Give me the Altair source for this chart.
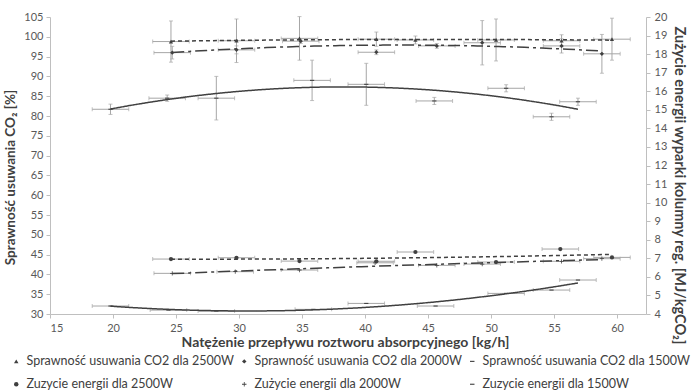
import altair as alt
import pandas as pd

# ---- data ----
labels = [
    "Sprawność usuwania CO2 dla 2500W",
    "Sprawność usuwania CO2 dla 2000W",
    "Sprawność usuwania CO2 dla 1500W",
    "Zuzycie energii dla 2500W",
    "Zużycie energii dla 2000W",
    "Zuzycie energii dla 1500W",
]

# Sprawność (left axis, %)
x_eff_2500 = [24.6, 29.8, 34.8, 40.9, 44.0, 50.4, 55.6, 59.6]
y_eff_2500 = [98.8, 99.0, 99.6, 99.4, 99.2, 99.2, 99.0, 99.4]
ey_eff_2500 = [5.2, 5.5, 5.5, 1.8, 1.0, 5.3, 1.5, 5.3]

x_eff_2000 = [24.7, 29.8, 34.9, 40.9, 45.7, 49.3, 55.6, 58.8]
y_eff_2000 = [96.0, 96.7, 98.9, 96.1, 97.7, 98.5, 97.7, 95.7]
ey_eff_2000 = [1.6, 1.0, 0.6, 0.6, 0.6, 5.6, 1.8, 4.9]

x_eff_1500 = [19.8, 24.3, 28.2, 35.8, 40.1, 45.5, 51.2, 54.8, 56.9]
y_eff_1500 = [81.7, 84.5, 84.5, 89.0, 88.0, 83.8, 87.0, 79.8, 83.6]
ey_eff_1500 = [1.3, 0.8, 5.5, 5.1, 5.3, 0.9, 0.9, 0.9, 0.9]

# Zużycie energii (right axis, MJ/kgCO2)
x_en_2500 = [24.6, 29.8, 34.8, 40.9, 44.0, 50.4, 55.5, 59.6]
y_en_2500 = [6.96, 7.03, 6.85, 6.84, 7.34, 6.80, 7.50, 7.05]

x_en_2000 = [24.7, 29.7, 34.8, 40.8, 45.7, 49.3, 55.6, 58.8]
y_en_2000 = [6.19, 6.28, 6.37, 6.76, 6.62, 6.69, 6.84, 6.98]

x_en_1500 = [19.8, 24.4, 28.2, 35.9, 40.1, 45.6, 51.2, 54.8, 56.9]
y_en_1500 = [4.43, 4.21, 4.16, 4.25, 4.57, 4.43, 5.11, 5.29, 5.83]

x_err = 1.45  # horizontal error half-width (kg/h)

x_ticks = [15, 20, 25, 30, 35, 40, 45, 50, 55, 60]
left_ticks = [30, 35, 40, 45, 50, 55, 60, 65, 70, 75, 80, 85, 90, 95, 100, 105]
right_ticks = [4, 5, 6, 7, 8, 9, 10, 11, 12, 13, 14, 15, 16, 17, 18, 19, 20]

shapes = [
    "triangle-up",
    "diamond",
    "M-1,-0.25H1V0.25H-1Z",
    "circle",
    "M-1,-0.18H-0.18V-1H0.18V-0.18H1V0.18H0.18V1H-0.18V0.18H-1Z",
    "M-1,-0.25H1V0.25H-1Z",
]
dashes = {"2500": [4, 3], "2000": [12, 4, 3, 4], "1500": [1, 0]}


def frame(xs, ys, eys, label, power):
    if eys is None:
        eys = [0.0] * len(xs)
    return pd.DataFrame({
        "x": xs, "y": ys,
        "ylo": [a - b for a, b in zip(ys, eys)],
        "yhi": [a + b for a, b in zip(ys, eys)],
        "xlo": [a - x_err for a in xs],
        "xhi": [a + x_err for a in xs],
        "hasy": [b > 0 for b in eys],
        "label": label, "power": power,
    })


eff = pd.concat([
    frame(x_eff_2500, y_eff_2500, ey_eff_2500, labels[0], "2500"),
    frame(x_eff_2000, y_eff_2000, ey_eff_2000, labels[1], "2000"),
    frame(x_eff_1500, y_eff_1500, ey_eff_1500, labels[2], "1500"),
])
en = pd.concat([
    frame(x_en_2500, y_en_2500, None, labels[3], "2500"),
    frame(x_en_2000, y_en_2000, None, labels[4], "2000"),
    frame(x_en_1500, y_en_1500, None, labels[5], "1500"),
])

FONT = "Lato"
DARK = "#404040"
GREY = "#a6a6a6"
AX = "#bfbfbf"

xscale = alt.Scale(domain=[15, 62.3], nice=False, zero=False)
xaxis = alt.Axis(values=x_ticks, title="Natężenie przepływu roztworu absorpcyjnego [kg/h]",
                 grid=False, domainColor=AX, tickColor=AX, tickSize=4, labelOverlap=False,
                 labelColor="#595959", labelFontSize=11, labelFont=FONT, labelPadding=4,
                 titleFont=FONT, titleFontSize=14, titleColor=DARK, titleFontWeight="bold",
                 titlePadding=2, titleX=295)

shape_enc = alt.Shape("label:N", scale=alt.Scale(domain=labels, range=shapes),
                      legend=alt.Legend(orient="none", legendX=-40, legendY=338, columns=3,
                                        direction="horizontal", title=None,
                                        labelFont=FONT, labelFontSize=12.5, labelColor=DARK,
                                        symbolSize=20, symbolFillColor=DARK, symbolStrokeColor=DARK,
                                        symbolStrokeWidth=0, columnPadding=4, rowPadding=10,
                                        labelLimit=400))


def group(df, yscale, yaxis):
    base = alt.Chart(df)

    def Y(field):
        return alt.Y(field, scale=yscale, axis=yaxis)

    X = lambda f: alt.X(f, scale=xscale, axis=xaxis)
    hbar = base.mark_rule(color=GREY, strokeWidth=1).encode(x=X("xlo:Q"), x2="xhi:Q", y=Y("y:Q"))
    hcap_lo = base.mark_tick(color=GREY, size=4, thickness=1, orient="vertical").encode(
        x=X("xlo:Q"), y=Y("y:Q"))
    hcap_hi = base.mark_tick(color=GREY, size=4, thickness=1, orient="vertical").encode(
        x=X("xhi:Q"), y=Y("y:Q"))
    layers = [hbar, hcap_lo, hcap_hi]
    vb = base.transform_filter(alt.datum.hasy)
    layers.append(vb.mark_rule(color=GREY, strokeWidth=1).encode(x=X("x:Q"), y=Y("ylo:Q"), y2="yhi:Q"))
    layers.append(vb.mark_tick(color=GREY, size=4, thickness=1, orient="horizontal").encode(
        x=X("x:Q"), y=Y("ylo:Q")))
    layers.append(vb.mark_tick(color=GREY, size=4, thickness=1, orient="horizontal").encode(
        x=X("x:Q"), y=Y("yhi:Q")))
    for p, d in dashes.items():
        layers.append(
            base.transform_filter(alt.datum.power == p)
            .transform_regression("x", "y", method="poly", order=2)
            .mark_line(color=DARK, strokeWidth=1.5, strokeDash=d)
            .encode(x=X("x:Q"), y=Y("y:Q"))
        )
    pts = base.mark_point(filled=True, size=18, color=DARK, opacity=1).encode(
        x=X("x:Q"), y=Y("y:Q"), shape=shape_enc)
    layers.append(pts)
    return alt.layer(*layers)


left_axis = alt.Axis(values=left_ticks, title="Sprawność usuwania CO₂ [%]", grid=False,
                     orient="left", domainColor=AX, tickColor=AX, tickSize=4,
                     labelColor="#595959", labelFontSize=11, labelFont=FONT, labelPadding=3,
                     labelOverlap=False,
                     titleFont=FONT, titleFontSize=13.5, titleColor=DARK, titleFontWeight="bold",
                     titlePadding=6, titleY=160)
right_axis = alt.Axis(values=right_ticks, title="Zużycie energii wyparki kolumny reg. [MJ/kgCO₂]",
                      grid=False, orient="right", domainColor=AX, tickColor=AX, tickSize=4,
                      labelColor="#595959", labelFontSize=11, labelFont=FONT, labelPadding=4,
                      labelOverlap=False,
                      titleFont=FONT, titleFontSize=14.5, titleColor=DARK, titleFontWeight="bold",
                      titlePadding=5, titleY=168)

left = group(eff, alt.Scale(domain=[30, 105], nice=False, zero=False), left_axis)
right = group(en, alt.Scale(domain=[4, 20], nice=False, zero=False), right_axis)

chart = alt.layer(left, right).resolve_scale(y="independent").properties(
    width=596, height=297,
    autosize=alt.AutoSizeParams(type="none"),
    padding={"left": 50, "top": 17, "right": 48, "bottom": 76},
    background="white",
).configure_view(stroke=None)

chart.save("out.html", embed_options={"renderer": "svg", "actions": False})
